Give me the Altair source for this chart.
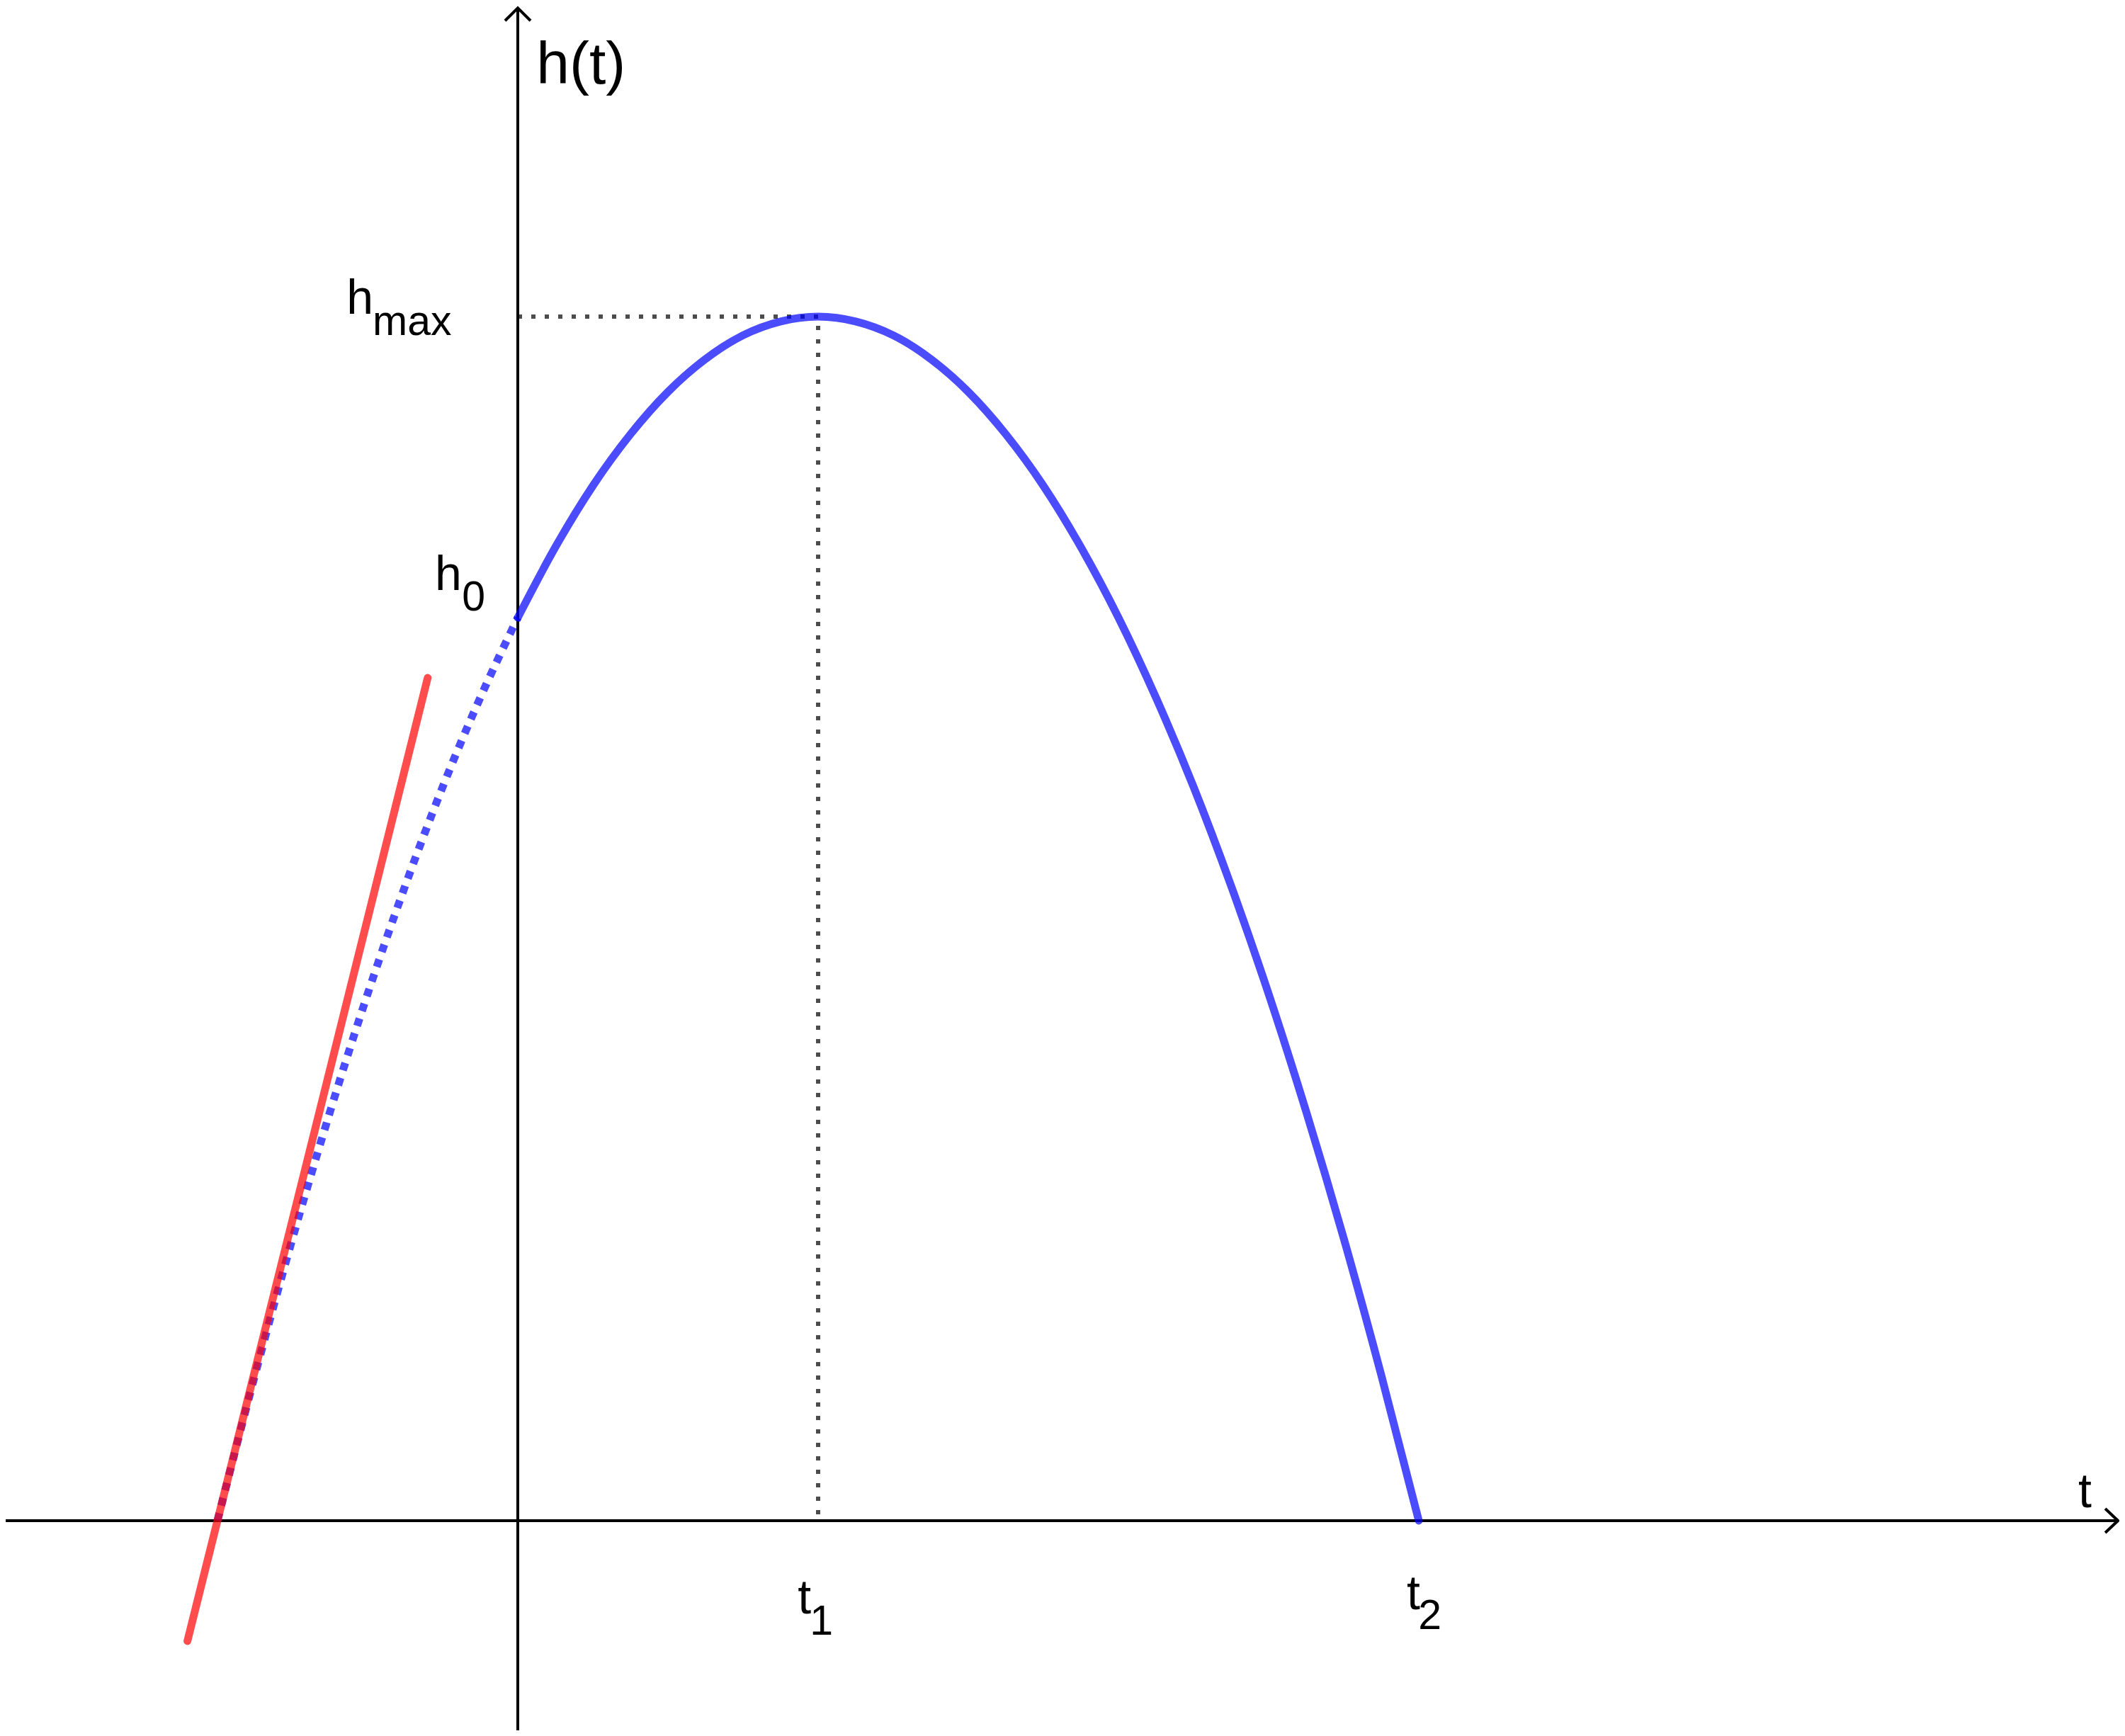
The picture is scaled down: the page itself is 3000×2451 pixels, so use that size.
import altair as alt
import pandas as pd

# ---- data (t and h in chart units: t1 = 1, t2 = 3, h0 = 3, hmax = 4)
curve_t = [-1.0, -0.875, -0.75, -0.625, -0.5, -0.375, -0.25, -0.125,
           0.0, 0.125, 0.25, 0.375, 0.5, 0.625, 0.75, 0.875,
           1.0, 1.125, 1.25, 1.375, 1.5, 1.625, 1.75, 1.875,
           2.0, 2.125, 2.25, 2.375, 2.5, 2.625, 2.75, 2.875, 3.0]
curve_h = [0.0, 0.484, 0.938, 1.359, 1.75, 2.109, 2.438, 2.734,
           3.0, 3.234, 3.438, 3.609, 3.75, 3.859, 3.938, 3.984,
           4.0, 3.984, 3.938, 3.859, 3.75, 3.609, 3.438, 3.234,
           3.0, 2.734, 2.438, 2.109, 1.75, 1.359, 0.938, 0.484, 0.0]

tangent_t = [-1.10, -0.30]
tangent_h = [-0.40, 2.80]

# guide lines to the vertex (t1, hmax)
guide_t = [0.0, 1.0, 1.0]
guide_h = [4.0, 4.0, 0.0]

# axes extents and arrow heads
x_axis_t = [-1.705, 5.328]
y_axis_h = [-0.697, 5.025]
arrow_id = ["y", "y", "y", "x", "x", "x"]
arrow_t = [-0.0425, 0.0, 0.0425, 5.2855, 5.328, 5.2855]
arrow_h = [4.983, 5.025, 4.983, 0.040, 0.0, -0.040]

# labels
label_text = ["h(t)", "t", "h", "h", "t", "t"]
label_t = [0.062, 5.196, -0.570, -0.276, 0.932, 2.960]
label_h = [4.774, 0.045, 4.009, 3.092, -0.308, -0.294]
label_size = [84, 68, 68, 68, 68, 68]

sub_text = ["max", "0", "1", "2"]
sub_t = [-0.4835, -0.186, 0.972, 2.998]
sub_h = [3.939, 3.0235, -0.379, -0.36]

T_DOMAIN = [-1.70519, 5.33255]
H_DOMAIN = [-0.69647, 5.03294]

xs = alt.Scale(domain=T_DOMAIN, nice=False, zero=False)
ys = alt.Scale(domain=H_DOMAIN, nice=False, zero=False)
X = lambda f: alt.X(f, type="quantitative", scale=xs, axis=None)
Y = lambda f: alt.Y(f, type="quantitative", scale=ys, axis=None)

curve = pd.DataFrame({"t": curve_t, "h": curve_h})
solid = curve[curve.t >= 0]
dashed = curve[curve.t <= 0]

axes_df = pd.DataFrame({"t1": [x_axis_t[0], 0.0], "t2": [x_axis_t[1], 0.0],
                        "h1": [0.0, y_axis_h[0]], "h2": [0.0, y_axis_h[1]]})
axes = alt.Chart(axes_df).mark_rule(color="black", strokeWidth=4).encode(
    x=X("t1"), x2="t2", y=Y("h1"), y2="h2")

arrows = alt.Chart(pd.DataFrame({"id": arrow_id, "t": arrow_t, "h": arrow_h,
                                 "k": list(range(len(arrow_t)))})).mark_line(
    color="black", strokeWidth=4, strokeJoin="miter").encode(
    x=X("t"), y=Y("h"), detail="id:N", order="k:Q")

guides = alt.Chart(pd.DataFrame({"t": guide_t, "h": guide_h, "k": [0, 1, 2]})).mark_line(
    color="black", strokeOpacity=0.7, strokeWidth=6, strokeDash=[6, 13], strokeCap="butt").encode(
    x=X("t"), y=Y("h"), order="k:Q")

blue_dashed = alt.Chart(dashed).mark_line(
    color="#0000ff", strokeOpacity=0.7, strokeWidth=11, strokeDash=[11, 11],
    strokeCap="butt", interpolate="monotone").encode(x=X("t"), y=Y("h"))

blue_solid = alt.Chart(solid).mark_line(
    color="#0000ff", strokeOpacity=0.7, strokeWidth=11, strokeCap="round",
    interpolate="monotone").encode(x=X("t"), y=Y("h"))

red = alt.Chart(pd.DataFrame({"t": tangent_t, "h": tangent_h})).mark_line(
    color="#ff0000", strokeOpacity=0.7, strokeWidth=11, strokeCap="round").encode(
    x=X("t"), y=Y("h"))

labels = alt.Chart(pd.DataFrame({"txt": label_text, "t": label_t, "h": label_h,
                                 "s": label_size})).mark_text(
    font="Liberation Sans", align="left", baseline="alphabetic", color="black").encode(
    x=X("t"), y=Y("h"), text="txt:N", size=alt.Size("s:Q", scale=None, legend=None))

subs = alt.Chart(pd.DataFrame({"txt": sub_text, "t": sub_t, "h": sub_h})).mark_text(
    font="Liberation Sans", align="left", baseline="alphabetic", color="black", fontSize=59).encode(
    x=X("t"), y=Y("h"), text="txt:N")

chart = alt.layer(axes, arrows, guides, blue_dashed, blue_solid, red, labels, subs).properties(
    width=2984, height=2435, padding=0, autosize=alt.AutoSizeParams(type="none"),
    background="white").configure_view(stroke=None)

chart.save("out.html", embed_options={"renderer": "svg", "actions": False})
